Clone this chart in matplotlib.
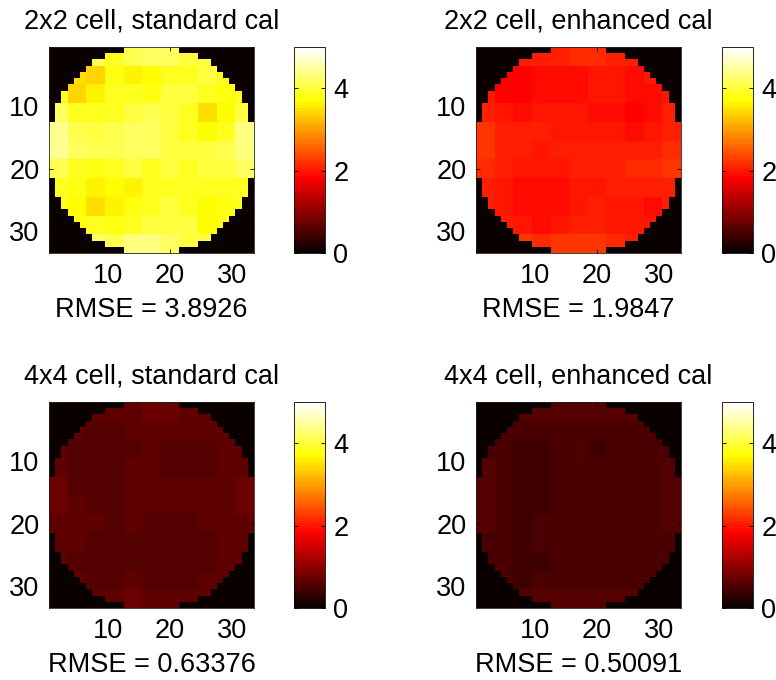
import numpy as np
import matplotlib
matplotlib.use('Agg')
import matplotlib.pyplot as plt

plt.rcParams['font.family'] = ['Liberation Sans', 'DejaVu Sans']

titles = ["2x2 cell, standard cal", "2x2 cell, enhanced cal",
          "4x4 cell, standard cal", "4x4 cell, enhanced cal"]
rmse_labels = ["RMSE = 3.8926", "RMSE = 1.9847", "RMSE = 0.63376", "RMSE = 0.50091"]
axis_ticks = [10, 20, 30]
cbar_ticks = [0, 2, 4]
clim = (0, 5)

# half-width (in cells) of the circular aperture for each of the 33 rows
half_widths = [4, 7, 9, 10, 11, 12, 13, 14, 14, 15, 15, 15,
               16, 16, 16, 16, 16, 16, 16, 16, 16,
               15, 15, 15, 14, 14, 13, 12, 11, 10, 9, 7, 4]

# coarse 11x11 maps (each value covers a 3x3 block of cells)
err_2x2_std = [
    [4.1, 4.1, 4.1, 3.9, 4.1, 4.2, 4.2, 4.0, 4.0, 4.0, 4.0],
    [3.9, 3.5, 3.4, 3.8, 3.6, 3.7, 3.9, 3.9, 4.0, 3.9, 3.9],
    [3.9, 3.4, 3.6, 3.9, 3.9, 3.8, 4.0, 4.0, 3.9, 3.8, 3.9],
    [4.2, 3.9, 3.9, 3.9, 4.0, 4.1, 4.0, 3.9, 3.5, 3.7, 4.0],
    [4.4, 4.1, 4.0, 4.1, 4.2, 4.2, 4.0, 3.9, 3.7, 3.9, 4.3],
    [4.4, 4.2, 4.1, 4.1, 4.2, 4.2, 4.0, 4.0, 4.0, 4.1, 4.3],
    [4.1, 3.9, 3.8, 3.9, 4.0, 3.9, 4.0, 3.9, 4.0, 4.0, 4.2],
    [3.9, 3.8, 3.6, 3.7, 3.6, 3.9, 3.9, 3.9, 3.9, 3.9, 3.9],
    [3.9, 3.7, 3.5, 3.6, 3.8, 3.9, 4.0, 3.9, 3.7, 3.8, 3.9],
    [3.9, 3.8, 3.9, 3.8, 3.9, 4.0, 4.0, 4.0, 3.7, 3.9, 3.9],
    [4.2, 4.2, 4.2, 4.1, 4.3, 4.3, 4.2, 4.0, 4.0, 4.0, 4.0],
]
err_2x2_enh = [
    [2.10, 2.10, 2.10, 2.05, 2.10, 2.15, 2.15, 2.10, 2.10, 2.10, 2.10],
    [2.00, 1.80, 1.85, 1.95, 1.90, 1.90, 2.00, 2.00, 1.95, 2.00, 2.00],
    [2.00, 1.80, 1.85, 1.95, 1.90, 1.95, 2.00, 2.00, 1.95, 1.90, 2.00],
    [2.10, 2.00, 1.95, 2.00, 2.00, 2.00, 1.95, 1.90, 1.85, 1.90, 2.05],
    [2.20, 2.10, 2.05, 2.05, 2.00, 2.00, 2.00, 2.00, 1.95, 2.00, 2.10],
    [2.20, 2.10, 2.05, 2.00, 2.05, 2.10, 2.05, 2.05, 2.05, 2.05, 2.15],
    [2.15, 2.05, 2.00, 2.00, 2.00, 2.05, 2.05, 2.10, 2.15, 2.15, 2.20],
    [2.10, 2.00, 1.90, 1.90, 1.95, 2.00, 2.00, 2.05, 2.10, 2.10, 2.10],
    [2.10, 2.00, 1.90, 1.90, 1.95, 2.00, 2.05, 2.00, 2.00, 1.95, 2.05],
    [2.10, 2.05, 2.00, 1.95, 2.00, 2.05, 2.05, 2.00, 2.00, 2.00, 2.05],
    [2.20, 2.20, 2.20, 2.15, 2.20, 2.20, 2.20, 2.15, 2.10, 2.10, 2.10],
]
err_4x4_std = [
    [0.70, 0.70, 0.68, 0.66, 0.70, 0.72, 0.72, 0.70, 0.68, 0.68, 0.68],
    [0.68, 0.63, 0.62, 0.62, 0.63, 0.66, 0.66, 0.64, 0.64, 0.67, 0.68],
    [0.68, 0.62, 0.60, 0.60, 0.62, 0.66, 0.58, 0.57, 0.60, 0.66, 0.68],
    [0.70, 0.62, 0.60, 0.60, 0.64, 0.66, 0.60, 0.58, 0.62, 0.66, 0.70],
    [0.72, 0.62, 0.60, 0.61, 0.66, 0.66, 0.65, 0.65, 0.66, 0.68, 0.72],
    [0.72, 0.64, 0.61, 0.62, 0.64, 0.66, 0.65, 0.65, 0.66, 0.68, 0.72],
    [0.70, 0.66, 0.64, 0.62, 0.63, 0.62, 0.61, 0.62, 0.65, 0.68, 0.70],
    [0.68, 0.64, 0.58, 0.60, 0.60, 0.58, 0.58, 0.58, 0.60, 0.66, 0.68],
    [0.66, 0.62, 0.57, 0.60, 0.62, 0.58, 0.57, 0.58, 0.62, 0.64, 0.66],
    [0.66, 0.64, 0.62, 0.62, 0.64, 0.60, 0.58, 0.60, 0.64, 0.64, 0.66],
    [0.68, 0.68, 0.68, 0.70, 0.72, 0.70, 0.68, 0.66, 0.66, 0.66, 0.66],
]
err_4x4_enh = [
    [0.55, 0.55, 0.55, 0.56, 0.58, 0.58, 0.58, 0.56, 0.55, 0.55, 0.55],
    [0.54, 0.52, 0.50, 0.48, 0.50, 0.52, 0.52, 0.52, 0.52, 0.52, 0.54],
    [0.54, 0.48, 0.44, 0.46, 0.50, 0.50, 0.46, 0.48, 0.50, 0.52, 0.54],
    [0.56, 0.50, 0.44, 0.46, 0.50, 0.50, 0.50, 0.50, 0.50, 0.52, 0.56],
    [0.58, 0.50, 0.44, 0.46, 0.50, 0.50, 0.50, 0.50, 0.50, 0.52, 0.58],
    [0.58, 0.52, 0.45, 0.46, 0.50, 0.50, 0.50, 0.50, 0.50, 0.52, 0.58],
    [0.56, 0.50, 0.46, 0.48, 0.50, 0.50, 0.50, 0.48, 0.50, 0.52, 0.56],
    [0.54, 0.50, 0.45, 0.48, 0.50, 0.50, 0.50, 0.50, 0.47, 0.52, 0.54],
    [0.54, 0.50, 0.44, 0.46, 0.50, 0.50, 0.50, 0.50, 0.48, 0.52, 0.54],
    [0.55, 0.52, 0.46, 0.48, 0.50, 0.50, 0.50, 0.50, 0.50, 0.52, 0.55],
    [0.56, 0.56, 0.56, 0.58, 0.60, 0.58, 0.56, 0.56, 0.55, 0.55, 0.55],
]
maps = [err_2x2_std, err_2x2_enh, err_4x4_std, err_4x4_enh]

n = len(half_widths)
center = n // 2


def build(block):
    full = np.kron(np.asarray(block, dtype=float), np.ones((3, 3)))
    out = np.zeros_like(full)
    for r, h in enumerate(half_widths):
        out[r, center - h:center + h + 1] = full[r, center - h:center + h + 1]
    return out


W, H = 776, 680
fig = plt.figure(figsize=(W / 100, H / 100), dpi=100)
cmap = plt.get_cmap('hot', 64)

img_left = [49, 476]
cb_left = [294, 722]
tops = [47, 402]
img_w, img_h = 205, 206
cb_w = 31
fs = 19.5

for k in range(4):
    r, c = divmod(k, 2)
    x0 = img_left[c]
    y0 = tops[r]
    ax = fig.add_axes([x0 / W, 1 - (y0 + img_h) / H, img_w / W, img_h / H])
    data = build(maps[k])
    im = ax.imshow(data, cmap=cmap, vmin=clim[0], vmax=clim[1],
                   extent=(0.5, n + 0.5, n + 0.5, 0.5),
                   interpolation='nearest', aspect='auto')
    ax.set_xticks(axis_ticks)
    ax.set_yticks(axis_ticks)
    ax.tick_params(direction='in', length=3, width=0.6, top=True, right=True,
                   labelsize=fs)
    ax.tick_params(axis='x', pad=7)
    ax.tick_params(axis='y', pad=7)
    for s in ax.spines.values():
        s.set_linewidth(0.6)
        s.set_color('#222222')
    ax.set_title(titles[k], fontsize=fs, pad=13)
    ax.set_xlabel(rmse_labels[k], fontsize=fs, labelpad=6)

    cax = fig.add_axes([cb_left[c] / W, 1 - (y0 + img_h) / H, cb_w / W, img_h / H])
    cb = fig.colorbar(im, cax=cax, ticks=cbar_ticks)
    cb.outline.set_linewidth(0.6)
    cax.tick_params(direction='in', length=3, width=0.6, left=True, right=True,
                    labelsize=fs, pad=6)

fig.savefig('out.png', dpi=100)
